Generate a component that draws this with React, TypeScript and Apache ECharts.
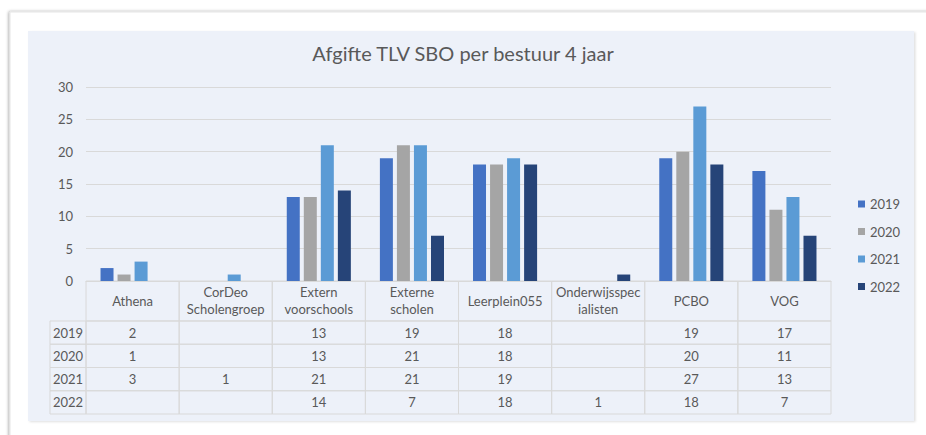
import React, { useEffect, useRef } from "react";
import * as echarts from "echarts";

const categories = [
  "Athena",
  "CorDeo\nScholengroep",
  "Extern\nvoorschools",
  "Externe\nscholen",
  "Leerplein055",
  "Onderwijsspec\nialisten",
  "PCBO",
  "VOG",
];
const years = ["2019", "2020", "2021", "2022"];
const v2019: (number | null)[] = [2, null, 13, 19, 18, null, 19, 17];
const v2020: (number | null)[] = [1, null, 13, 21, 18, null, 20, 11];
const v2021: (number | null)[] = [3, 1, 21, 21, 19, null, 27, 13];
const v2022: (number | null)[] = [null, null, 14, 7, 18, 1, 18, 7];
const yearValues = [v2019, v2020, v2021, v2022];
const colors = ["#4472C4", "#A5A5A5", "#5B9BD5", "#264478"];
const yMax = 30;
const yInterval = 5;

const FONT = "Lato, 'Open Sans', sans-serif";
const TEXT = "#595959";
const LINE = "#D9D9D9";
const LABEL_W = 0.387;
const HEADER_H = 1.72;

export default function App() {
  const ref = useRef<HTMLDivElement>(null);
  useEffect(() => {
    if (!ref.current) return;
    const chart = echarts.init(ref.current, null, { renderer: "svg" });

    const cells: number[][] = [];
    const cellText: string[] = [];
    categories.forEach((c, i) => {
      cells.push([i, -1]);
      cellText.push(c);
    });
    years.forEach((y, r) => {
      cells.push([-1, r]);
      cellText.push(y);
      categories.forEach((_, i) => {
        const v = yearValues[r][i];
        cells.push([i, r]);
        cellText.push(v == null ? "" : String(v));
      });
    });

    chart.setOption({
      animation: false,
      backgroundColor: "#ffffff",
      textStyle: { fontFamily: FONT },
      graphic: [
        {
          type: "rect",
          z: -10,
          silent: true,
          shape: { x: 10, y: 12, width: 940, height: 450 },
          style: {
            fill: "#ffffff",
            stroke: "#e6e6e6",
            lineWidth: 1,
            shadowBlur: 3,
            shadowColor: "rgba(0,0,0,0.35)",
            shadowOffsetX: -1,
          },
        },
        {
          type: "rect",
          z: -9,
          silent: true,
          shape: { x: 28, y: 31, width: 886, height: 390 },
          style: {
            fill: "#EDF1F9",
            shadowBlur: 2,
            shadowColor: "rgba(0,0,0,0.12)",
            shadowOffsetX: 1.5,
            shadowOffsetY: 1,
          },
        },
      ],
      title: {
        text: "Afgifte TLV SBO per bestuur 4 jaar",
        left: "center",
        top: 43,
        padding: [0, 0, 0, 16],
        textStyle: { fontFamily: FONT, fontSize: 20, fontWeight: "normal", color: TEXT },
      },
      legend: {
        data: years,
        orient: "vertical",
        left: 853,
        top: 192,
        icon: "rect",
        itemWidth: 7,
        itemHeight: 7,
        itemGap: 13.5,
        textStyle: { color: TEXT, fontSize: 13, fontFamily: FONT, lineHeight: 14 },
      },
      grid: [
        { left: 86, right: 95, top: 87, bottom: 154 },
        { left: 50, right: 95, top: 281, bottom: 21 },
      ],
      xAxis: [
        {
          type: "category",
          gridIndex: 0,
          data: categories,
          axisLine: { show: true, lineStyle: { color: LINE } },
          axisTick: { show: false },
          axisLabel: { show: false },
        },
        { type: "value", gridIndex: 1, min: -LABEL_W, max: 8, show: false },
      ],
      yAxis: [
        {
          type: "value",
          gridIndex: 0,
          min: 0,
          max: yMax,
          interval: yInterval,
          axisLine: { show: false },
          axisTick: { show: false },
          axisLabel: { color: TEXT, fontSize: 13, margin: 13, fontFamily: FONT },
          splitLine: { lineStyle: { color: LINE } },
        },
        {
          type: "value",
          gridIndex: 1,
          min: 0,
          max: HEADER_H + years.length,
          inverse: true,
          show: false,
        },
      ],
      series: [
        ...years.map((y, k) => ({
          name: y,
          type: "bar",
          xAxisIndex: 0,
          yAxisIndex: 0,
          data: yearValues[k],
          barWidth: 13,
          barGap: "31%",
          itemStyle: { color: colors[k] },
        })),
        {
          type: "custom",
          xAxisIndex: 1,
          yAxisIndex: 1,
          silent: true,
          data: cells,
          renderItem: (params: any, api: any) => {
            const col = api.value(0);
            const row = api.value(1);
            const x0 = col < 0 ? -LABEL_W : col;
            const x1 = col < 0 ? 0 : col + 1;
            const y0 = row < 0 ? 0 : HEADER_H + row;
            const y1 = row < 0 ? HEADER_H : HEADER_H + row + 1;
            const p0 = api.coord([x0, y0]);
            const p1 = api.coord([x1, y1]);
            return {
              type: "group",
              children: [
                {
                  type: "rect",
                  shape: { x: p0[0], y: p0[1], width: p1[0] - p0[0], height: p1[1] - p0[1] },
                  style: { fill: "none", stroke: LINE, lineWidth: 1 },
                },
                {
                  type: "text",
                  style: {
                    text: cellText[params.dataIndex],
                    x: (p0[0] + p1[0]) / 2,
                    y: (p0[1] + p1[1]) / 2,
                    align: "center",
                    verticalAlign: "middle",
                    fill: TEXT,
                    fontSize: 13,
                    fontFamily: FONT,
                    lineHeight: 17,
                  },
                },
              ],
            };
          },
        },
      ],
    });
    return () => chart.dispose();
  }, []);
  return (
    <div
      ref={ref}
      style={{ position: "fixed", left: 0, top: 0, width: 926, height: 435 }}
    />
  );
}
